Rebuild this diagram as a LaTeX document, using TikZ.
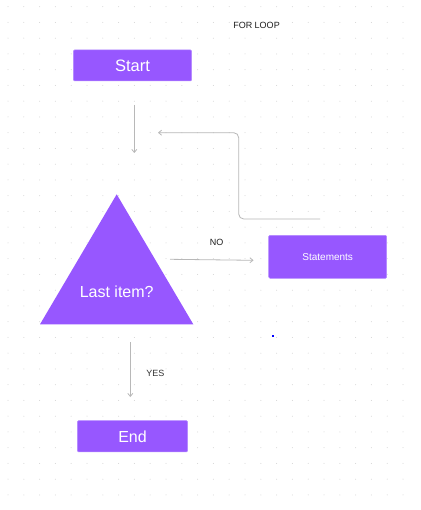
\documentclass[tikz,border=0pt]{standalone}
\usepackage{fontspec}
\setmainfont{Liberation Sans}
\usetikzlibrary{arrows.meta}
\definecolor{figpurple}{HTML}{9757FF}
\definecolor{figedge}{HTML}{B48AFF}
\definecolor{linegrey}{HTML}{B8B8B8}
\definecolor{dotgrey}{HTML}{D2D2D2}
\definecolor{txtdark}{HTML}{1E1E1E}
\tikzset{
  box/.style={fill=figpurple, draw=figedge, line width=0.5pt, rounded corners=1.2pt, inner sep=0pt, text=white},
  conn/.style={draw=linegrey, line width=0.8pt, -{Straight Barb[length=3pt,width=5pt]}},
  lbl/.style={text=txtdark, inner sep=0pt},
}
\begin{document}
\begin{tikzpicture}[x=1pt,y=-1pt]
\useasboundingbox (0,0) rectangle (420,510);
\fill[white] (0,0) rectangle (420,510);
% dot grid
\foreach \i in {0,...,25}{
  \foreach \j in {0,...,31}{
    \fill[dotgrey] ({8+15.8*\i},{6.7+15.75*\j}) circle (0.5);
  }
}
% title
\node[lbl, font=\fontsize{9}{10}\selectfont] (title) at (256.5,25.7) {FOR LOOP};
% start
\node[box, minimum width=118.4pt, minimum height=31pt, font=\fontsize{16.5}{18}\selectfont] (start) at (132.5,65.5) {Start};
% triangle
\path[fill=figpurple] (116.7,194.3) -- (193.3,324.3) -- (40,324.3) -- cycle;
\node[inner sep=0pt, text=white, font=\fontsize{16}{18}\selectfont] (last) at (116.7,291.7) {Last item?};
% statements
\node[box, minimum width=118pt, minimum height=43pt, font=\fontsize{10}{12}\selectfont] (stmt) at (327.7,256.8) {Statements};
% end
\node[box, minimum width=110.4pt, minimum height=31.3pt, font=\fontsize{16}{18}\selectfont] (end) at (132.5,436.3) {End};
% connector coordinates
\coordinate (a1s) at (134.3,105);
\coordinate (a1e) at (134.3,153);
\coordinate (nos) at (170,259.3);
\coordinate (noe) at (253.5,260.3);
\coordinate (loops) at (320,219);
\coordinate (loope) at (158,132.7);
\coordinate (yess) at (130.3,342);
\coordinate (yese) at (130.3,397);
\draw[conn] (a1s) -- (a1e);
\draw[conn] (nos) -- (noe);
\draw[conn, rounded corners=5pt] (loops) -- (238.7,219) -- (238.7,132.7) -- (loope);
\draw[conn] (yess) -- (yese);
% labels
\node[lbl, font=\fontsize{9}{10}\selectfont] (nolbl) at (216.7,242.7) {NO};
\node[lbl, text=black!80, font=\fontsize{9}{10}\selectfont] (yeslbl) at (155.3,373) {YES};
% blue dot
\fill[blue] (272.3,335) rectangle (274.3,337);
\end{tikzpicture}
\end{document}
